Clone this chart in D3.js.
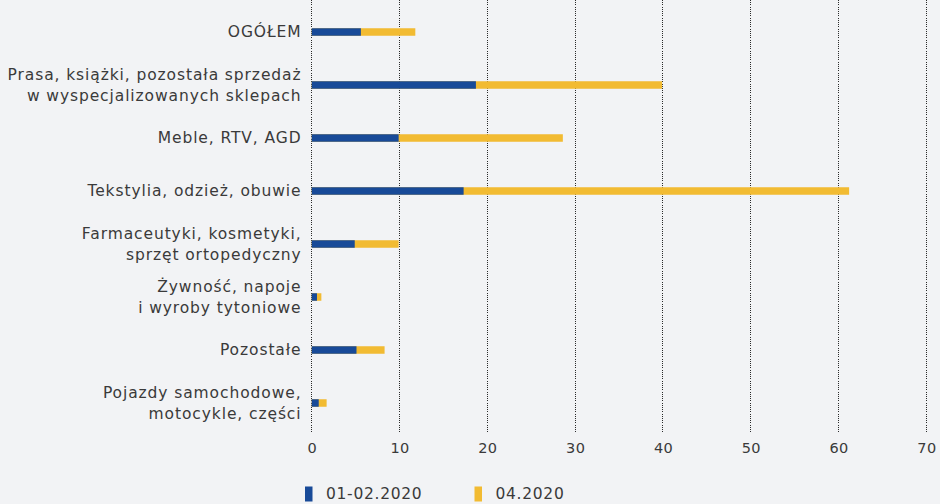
<!DOCTYPE html>
<html>
<head>
<meta charset="utf-8">
<script src="https://cdn.jsdelivr.net/npm/d3@7"></script>
<style>
  html, body { margin: 0; padding: 0; background: #f2f3f5; }
  svg { display: block; }
  text { font-family: "DejaVu Sans", "Noto Sans", sans-serif; fill: #3a3a3a; }
</style>
</head>
<body>
<svg id="chart" width="940" height="504"></svg>
<script>
// Share of online sales by retail group (%), two periods
const categories = [
  "OGÓŁEM",
  "Prasa, książki, pozostała sprzedaż\nw wyspecjalizowanych sklepach",
  "Meble, RTV, AGD",
  "Tekstylia, odzież, obuwie",
  "Farmaceutyki, kosmetyki,\nsprzęt ortopedyczny",
  "Żywność, napoje\ni wyroby tytoniowe",
  "Pozostałe",
  "Pojazdy samochodowe,\nmotocykle, części"
];
const seriesNames = ["01-02.2020", "04.2020"];
const valuesJanFeb = [5.6, 18.7, 9.9, 17.3, 4.9, 0.6, 5.1, 0.8];
const valuesApril = [11.8, 39.9, 28.6, 61.2, 9.9, 1.1, 8.3, 1.7];
const xTicks = [0, 10, 20, 30, 40, 50, 60, 70];

const colors = { [seriesNames[0]]: "#184a98", [seriesNames[1]]: "#f2bb32" };

const svg = d3.select("#chart");
const left = 311.7, right = 926.4;

const x = d3.scaleLinear().domain([0, 70]).range([left, right]);
const y = d3.scaleBand().domain(categories).range([5.5, 429.5]).paddingInner(0).paddingOuter(0);
const barH = 7.5;

// dotted vertical gridlines with tick marks below the plot
const grid = svg.append("g");
grid.selectAll("line").data(xTicks).join("line")
  .attr("x1", d => x(d)).attr("x2", d => x(d))
  .attr("y1", 0).attr("y2", 432)
  .attr("stroke", "#2a2a2a").attr("stroke-width", 1)
  .attr("stroke-dasharray", "1,1.2")
  .attr("shape-rendering", "crispEdges");

// x axis labels
const axis = d3.axisBottom(x).tickValues(xTicks).tickSize(0).tickPadding(0);
const gAxis = svg.append("g").attr("transform", "translate(0,443)").call(axis);
gAxis.select(".domain").remove();
gAxis.selectAll("text")
  .style("font-family", "\"DejaVu Sans\", sans-serif")
  .style("font-size", "14.5px")
  .style("letter-spacing", "0.3px")
  .attr("fill", "#3a3a3a");

// bars: later period behind, earlier period on top
const bars = svg.append("g");
bars.selectAll("rect.apr").data(categories).join("rect")
  .attr("class", "apr")
  .attr("x", x(0))
  .attr("y", d => y(d) + y.bandwidth() / 2 - barH / 2)
  .attr("width", (d, i) => x(valuesApril[i]) - x(0))
  .attr("height", barH)
  .attr("fill", colors[seriesNames[1]]);
bars.selectAll("rect.jf").data(categories).join("rect")
  .attr("class", "jf")
  .attr("x", x(0))
  .attr("y", d => y(d) + y.bandwidth() / 2 - barH / 2)
  .attr("width", (d, i) => x(valuesJanFeb[i]) - x(0))
  .attr("height", barH)
  .attr("fill", colors[seriesNames[0]]);

// category labels, right aligned
const labels = svg.append("g");
categories.forEach(c => {
  const lines = c.split("\n");
  const cy = y(c) + y.bandwidth() / 2;
  const t = labels.append("text")
    .attr("text-anchor", "end")
    .style("font-size", "15.5px")
    .style("letter-spacing", "0.9px");
  lines.forEach((ln, i) => {
    const off = lines.length === 1 ? 0 : (i === 0 ? -10 : 11);
    t.append("tspan").attr("x", 301.5).attr("y", cy + off).attr("dy", "0.35em").text(ln);
  });
});

// legend
const legend = svg.append("g").attr("transform", "translate(0,494)");
const legX = [305, 474.5];
seriesNames.forEach((s, i) => {
  legend.append("rect").attr("x", legX[i]).attr("y", -7.5).attr("width", 7.5).attr("height", 15)
    .attr("fill", colors[s]);
  legend.append("text").attr("x", legX[i] + 21).attr("y", 0).attr("dy", "0.35em")
    .style("font-size", "15.5px").style("letter-spacing", "0.7px").text(s);
});
</script>
</body>
</html>
